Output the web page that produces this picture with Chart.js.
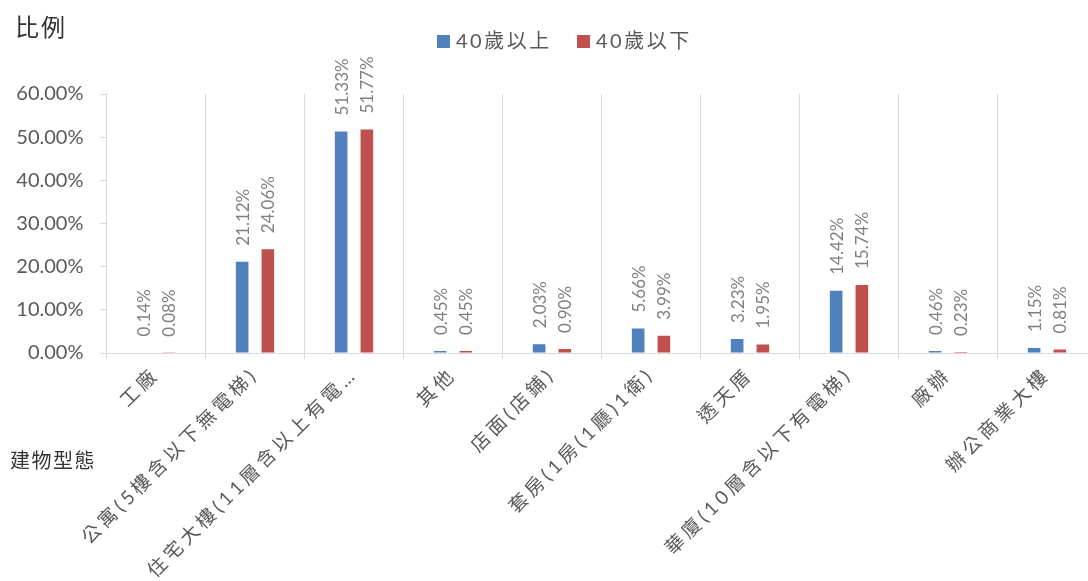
<!DOCTYPE html>
<html>
<head>
<meta charset="utf-8">
<script src="https://cdn.jsdelivr.net/npm/chart.js@4/dist/chart.umd.min.js"></script>
<style>
  html, body { margin: 0; padding: 0; background: #fff; overflow: hidden; width: 1088px; height: 581px; }
  #wrap { width: 1100px; height: 581px; }
</style>
</head>
<body>
<div id="wrap"><canvas id="c" width="1100" height="581"></canvas></div>
<script>
const categories = [
  '工廠',
  '公寓(5樓含以下無電梯)',
  '住宅大樓(11層含以上有電…',
  '其他',
  '店面(店鋪)',
  '套房(1房(1廳)1衛)',
  '透天厝',
  '華廈(10層含以下有電梯)',
  '廠辦',
  '辦公商業大樓'
];
const seriesNames = ['40歲以上', '40歲以下'];
const over40 = [0.14, 21.12, 51.33, 0.45, 2.03, 5.66, 3.23, 14.42, 0.46, 1.15];
const under40 = [0.08, 24.06, 51.77, 0.45, 0.90, 3.99, 1.95, 15.74, 0.23, 0.81];
const yTicks = [0, 10, 20, 30, 40, 50, 60];
const yTitle = '比例';
const xTitle = '建物型態';

const FONT = 'Lato, "Noto Sans CJK TC", sans-serif';
const colors = ['#4F81BD', '#C0504D'];

const valueLabels = {
  id: 'valueLabels',
  afterDatasetsDraw(chart) {
    const ctx = chart.ctx;
    ctx.save();
    ctx.font = '17px ' + FONT;
    ctx.fillStyle = '#808080';
    chart.data.datasets.forEach((ds, i) => {
      const meta = chart.getDatasetMeta(i);
      meta.data.forEach((bar, j) => {
        const v = ds.data[j];
        ctx.save();
        ctx.translate(bar.x + 1, bar.y - 16);
        ctx.rotate(-Math.PI / 2);
        ctx.textAlign = 'left';
        ctx.textBaseline = 'middle';
        ctx.fillText(v.toFixed(2) + '%', 0, 0);
        ctx.restore();
      });
    });
    ctx.restore();
  }
};

const decorations = {
  id: 'decorations',
  afterDraw(chart) {
    const ctx = chart.ctx;
    ctx.save();
    ctx.fillStyle = '#333333';
    ctx.textBaseline = 'middle';
    ctx.textAlign = 'left';
    ctx.letterSpacing = '2px';
    ctx.font = '24px ' + FONT;
    ctx.fillText(yTitle, 15, 28);
    ctx.letterSpacing = '1.5px';
    ctx.font = '20px ' + FONT;
    ctx.fillText(xTitle, 10, 462);
    // legend
    ctx.letterSpacing = '2.5px';
    ctx.font = '20px ' + FONT;
    const legendX = [437, 577];
    chart.data.datasets.forEach((ds, i) => {
      const x = legendX[i];
      ctx.fillStyle = ds.backgroundColor;
      ctx.fillRect(x, 35, 13, 13);
      ctx.fillStyle = '#595959';
      ctx.fillText(ds.label, x + 19, 42);
    });
    ctx.restore();
  }
};

new Chart(document.getElementById('c'), {
  type: 'bar',
  data: {
    labels: categories,
    datasets: [
      { label: seriesNames[0], data: over40, backgroundColor: colors[0], categoryPercentage: 0.52, barPercentage: 0.49 },
      { label: seriesNames[1], data: under40, backgroundColor: colors[1], categoryPercentage: 0.52, barPercentage: 0.49 }
    ]
  },
  options: {
    responsive: false,
    animation: false,
    devicePixelRatio: 1,
    layout: { padding: { top: 94, right: 3.5, left: 0, bottom: 0 } },
    plugins: {
      legend: { display: false },
      tooltip: { enabled: false },
      title: { display: false }
    },
    scales: {
      x: {
        grid: { display: true, offset: true, color: '#d9d9d9', lineWidth: 1, drawOnChartArea: true, drawTicks: true, tickLength: 6 },
        border: { display: true, color: '#d9d9d9', width: 1 },
        ticks: {
          autoSkip: false, minRotation: 45, maxRotation: 45, padding: 4,
          color: '#595959', font: { family: FONT, size: 19 }
        },
        afterFit(scale) {
          scale.height = 228;
          if (!scale._spaced) {
            const base = Object.getPrototypeOf(scale).drawLabels;
            scale.drawLabels = function (area) {
              const ctx = this.ctx;
              ctx.save();
              ctx.letterSpacing = '4px';
              base.call(this, area);
              ctx.restore();
            };
            scale._spaced = true;
          }
        }
      },
      y: {
        min: 0, max: 60,
        afterBuildTicks(scale) { scale.ticks = yTicks.map(v => ({ value: v })); },
        grid: { drawOnChartArea: false, drawTicks: true, tickLength: 6, color: '#d9d9d9' },
        border: { display: true, color: '#d9d9d9', width: 1 },
        ticks: {
          padding: 17, color: '#595959', font: { family: FONT, size: 20 },
          callback: v => Number(v).toFixed(2) + '%'
        },
        afterFit(scale) { scale.width = 106.5; }
      }
    }
  },
  plugins: [valueLabels, decorations]
});
</script>
</body>
</html>
